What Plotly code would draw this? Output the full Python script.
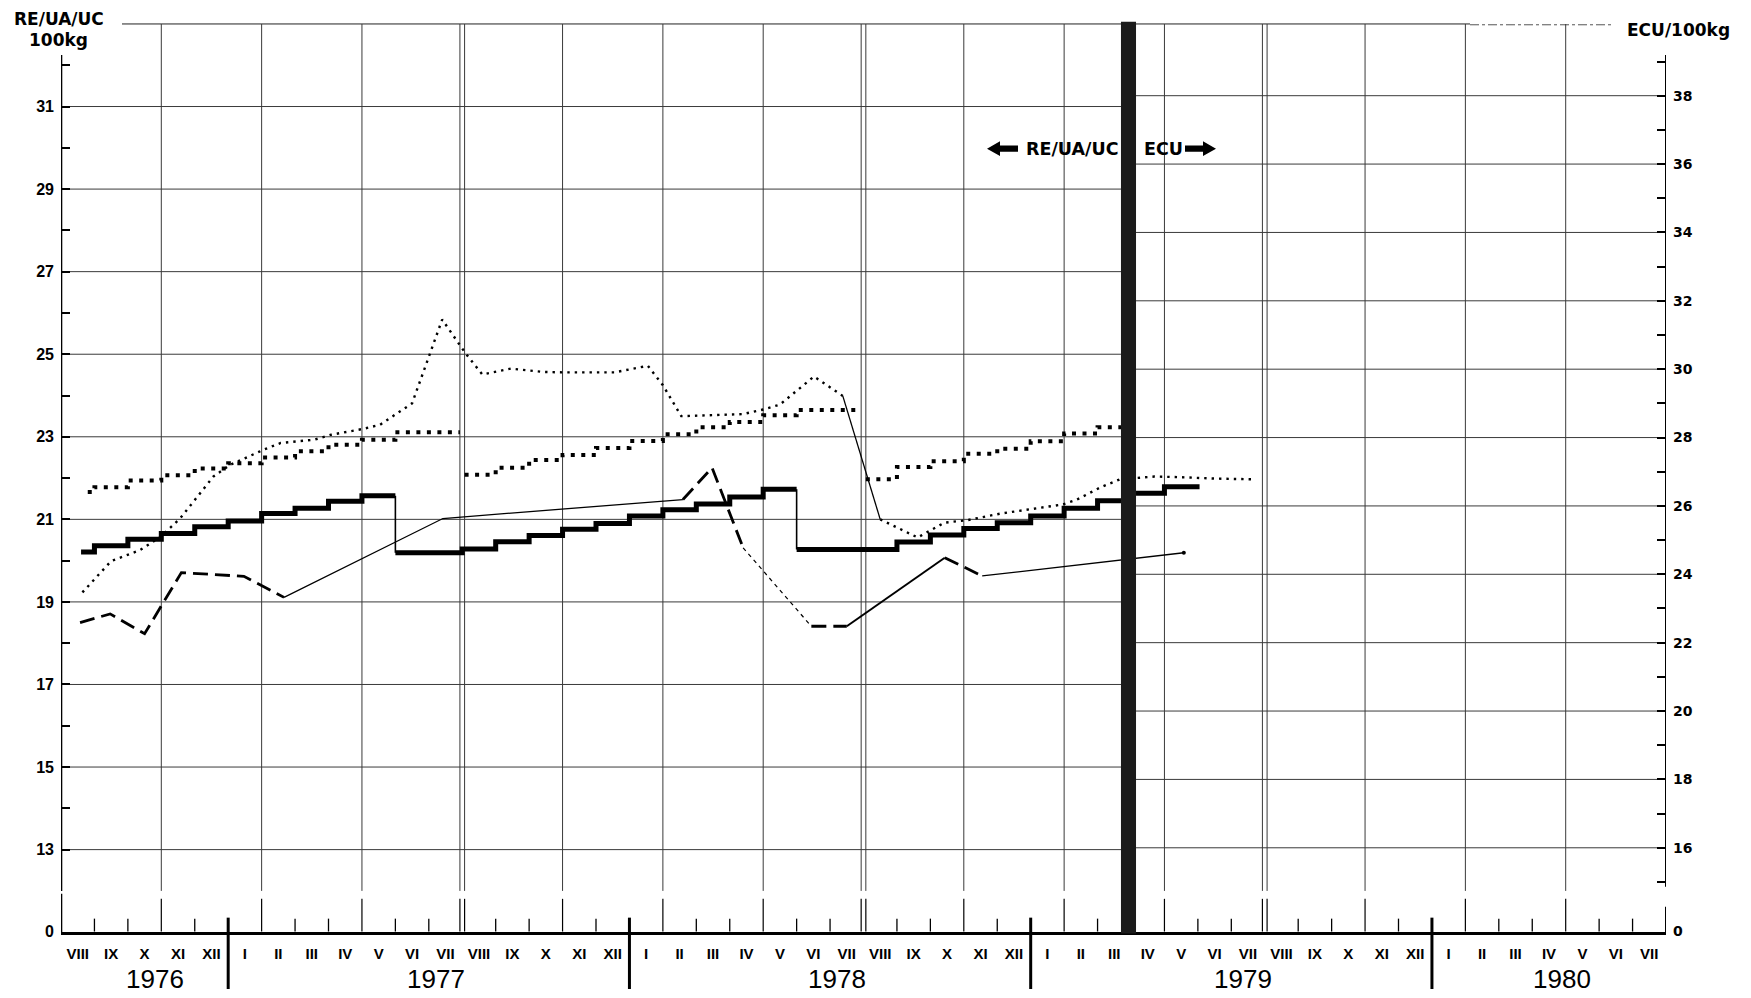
import plotly.graph_objects as go

W, H = 1751, 998

# ---------------- calendar / axis labels ----------------
ROMAN = ["I", "II", "III", "IV", "V", "VI", "VII", "VIII", "IX", "X", "XI", "XII"]
month_labels = ["VIII", "IX", "X", "XI", "XII"] + ROMAN * 3 + ROMAN[:7]   # VIII 1976 .. VII 1980
year_labels = ["1976", "1977", "1978", "1979", "1980"]
year_label_pos = [2.3, 10.7, 22.7, 34.85, 44.4]
year_breaks = [4.5, 16.5, 28.5, 40.5]
grid_months = [2.5, 5.5, 8.5, 11.5, 14.5, 17.5, 20.5, 23.5, 26.5, 29.5, 32.5, 35.5, 38.5, 41.5, 44.5]
double_grid = [11.5, 23.5, 35.5]
left_major = [13, 15, 17, 19, 21, 23, 25, 27, 29, 31]
left_minor = [14, 16, 18, 20, 22, 24, 26, 28, 30, 32]
right_major = [16, 18, 20, 22, 24, 26, 28, 30, 32, 34, 36, 38]
right_minor = [15, 17, 19, 21, 23, 25, 27, 29, 31, 33, 35, 37, 39]

# ---------------- series (month index 0 = VIII 1976) ----------------
# thick step line (RE/UA/UC per 100 kg)
A_months = list(range(0, 32))
A_ua = [20.21, 20.36, 20.52, 20.66, 20.82, 20.96, 21.14, 21.27, 21.44, 21.57,
        20.19, 20.19, 20.28, 20.46, 20.61, 20.76, 20.90, 21.08, 21.23, 21.37,
        21.54, 21.73, 20.27, 20.27, 20.27, 20.45, 20.62, 20.78, 20.92, 21.08,
        21.27, 21.45]
A_ecu_months = [32, 33]
A_ecu = [26.37, 26.56]

# bold dotted step line
B_months = list(range(0, 32))
B_ua = [21.66, 21.78, 21.94, 22.07, 22.23, 22.36, 22.50, 22.65, 22.81, 22.93,
        23.11, 23.11, 22.08, 22.25, 22.44, 22.56, 22.73, 22.90, 23.06, 23.23,
        23.36, 23.52, 23.65, 23.65, 21.97, 22.27, 22.41, 22.59, 22.71, 22.89,
        23.08, 23.23]

# fine dotted line (market price)
C1_x = [0.14, 1.0, 1.85, 2.47, 3.06, 4.06, 4.56, 5.57, 6.07, 7.08, 7.58, 8.53, 9.04,
        10.0, 10.9, 11.45, 11.6, 12.1, 12.95, 13.95, 14.55, 16.05, 17.05, 17.5, 18.05,
        19.9, 20.5, 21.0, 22.02, 22.88]
C1_ua = [19.23, 19.99, 20.25, 20.57, 21.02, 22.04, 22.32, 22.69, 22.85, 22.93, 23.05, 23.19, 23.29,
         23.81, 25.84, 25.20, 25.02, 24.51, 24.65, 24.57, 24.56, 24.56, 24.72, 24.25, 23.50,
         23.55, 23.66, 23.78, 24.46, 23.99]
C2_x = [24.0, 25.12, 25.92, 26.6, 27.6, 29.45, 29.86, 30.6, 31.2]
C2_ua = [21.00, 20.56, 20.92, 20.98, 21.14, 21.36, 21.47, 21.78, 21.98]
C_ecu_x = [31.7, 32.2, 33.0, 34.0, 35.1]
C_ecu = [26.82, 26.86, 26.84, 26.80, 26.78]

# dashed line (with thin links)
D_x = [0.07, 0.97, 2.0, 3.1, 4.97, 6.17, 10.92, 18.1, 18.97, 19.9, 21.94, 23.0, 25.93, 27.05]
D_ua = [18.50, 18.71, 18.23, 19.71, 19.62, 19.11, 21.02, 21.48, 22.25, 20.31, 18.41, 18.41, 20.07, 19.63]
D_segments = [(0, 5, "dash"), (5, 7, "thin"), (7, 9, "dash"), (9, 10, "fine"),
              (10, 11, "dash"), (11, 12, "mid"), (12, 13, "dash")]
D_ecu_x = [33.08]
D_ecu = [24.63]

# ---------------- scales ----------------
X_RANGE = [-0.5, 47.5]
Y_RANGE = [12.0, 33.0]
ECU_SCALE, ECU_SHIFT = 1.2076, 0.2476          # right axis calibration vs left axis
def to_ecu(v):
    return ECU_SCALE * v + ECU_SHIFT
Y2_RANGE = [to_ecu(Y_RANGE[0]), to_ecu(Y_RANGE[1])]
DIV_X = [31.2, 31.65]                            # ECU changeover bar

def px(x):
    return x / W
def py(y):
    return 1 - y / H

XDOM = [px(61), px(1666)]
YDOM = [py(899.0), py(24.18)]
Y3DOM = [py(940), py(903)]

SANS = "Liberation Sans, Arial, sans-serif"
BOLD = "DejaVu Sans, Liberation Sans, sans-serif"
GRID = "#3a3a3a"

fig = go.Figure()

def step_xy(months, vals, x_start, x_end):
    xs = [x_start] + [m - 0.5 for m in months[1:]] + [x_end]
    ys = list(vals) + [vals[-1]]
    return xs, ys

def add_line(x, y, width, dash="solid", axis="y", shape="linear"):
    fig.add_trace(go.Scatter(x=x, y=y, mode="lines", yaxis=axis,
                             line=dict(color="black", width=width, dash=dash, shape=shape),
                             hoverinfo="skip", showlegend=False))

# --- A: thick step line, split at the yearly drops
A_parts = [(0, 9, 0.1, 9.5), (10, 21, 9.5, 21.5), (22, 31, 21.5, DIV_X[0])]
for i0, i1, xs, xe in A_parts:
    xx, yy = step_xy(A_months[i0:i1 + 1], A_ua[i0:i1 + 1], xs, xe)
    add_line(xx, yy, 5, shape="hv")
for i in (9, 21):
    add_line([i + 0.5, i + 0.5], [A_ua[i], A_ua[i + 1]], 1.6)
xx, yy = step_xy(A_ecu_months, A_ecu, DIV_X[1], 33.55)
add_line(xx, yy, 5, axis="y2", shape="hv")

# --- B: bold dotted step line, gaps at the August changes
B_parts = [(0, 11, 0.3, 11.43), (12, 23, 11.57, 23.43), (24, 31, 23.57, DIV_X[0])]
for i0, i1, xs, xe in B_parts:
    xx, yy = step_xy(B_months[i0:i1 + 1], B_ua[i0:i1 + 1], xs, xe)
    add_line(xx, yy, 4, dash="4px,6.5px", shape="hv")

# --- C: fine dotted line
add_line(C1_x, C1_ua, 2.4, dash="2.4px,5px")
add_line([C1_x[-1], C2_x[0]], [C1_ua[-1], C2_ua[0]], 1.3)
add_line(C2_x, C2_ua, 2.4, dash="2.4px,5px")
add_line(C_ecu_x, C_ecu, 2.4, dash="2.4px,5px", axis="y2")

# --- D: dashed line with thin links
D_styles = {"dash": (2.8, "15px,7px"), "thin": (1.3, "solid"), "fine": (1.2, "4px,4px"),
            "mid": (2.0, "solid")}
for i0, i1, st in D_segments:
    w, d = D_styles[st]
    add_line(D_x[i0:i1 + 1], D_ua[i0:i1 + 1], w, dash=d)
add_line([D_x[-1], D_ecu_x[0]], [to_ecu(D_ua[-1]), D_ecu[0]], 1.3, axis="y2")
fig.add_trace(go.Scatter(x=D_ecu_x, y=D_ecu, mode="markers", yaxis="y2",
                         marker=dict(color="black", size=4), hoverinfo="skip", showlegend=False))

# bottom strip axis (carries the month tick labels)
fig.add_trace(go.Scatter(x=[X_RANGE[0]], y=[0], xaxis="x2", yaxis="y3", mode="markers",
                         marker=dict(opacity=0), hoverinfo="skip", showlegend=False))
fig.add_trace(go.Scatter(x=[X_RANGE[1]], y=[0], xaxis="x2", yaxis="y4", mode="markers",
                         marker=dict(opacity=0), hoverinfo="skip", showlegend=False))

# ---------------- shapes ----------------
shapes = []
def hline(x0, x1, y, yref="y", w=1, color=GRID, dash="solid", xref="x"):
    shapes.append(dict(type="line", xref=xref, yref=yref, x0=x0, x1=x1, y0=y, y1=y,
                       line=dict(color=color, width=w, dash=dash), layer="below"))
def vline(x, y0, y1, yref="y", w=1, color=GRID, xref="x", layer="below"):
    shapes.append(dict(type="line", xref=xref, yref=yref, x0=x, x1=x, y0=y0, y1=y1,
                       line=dict(color=color, width=w), layer=layer))

for v in left_major:
    hline(-0.3, DIV_X[0], v)
for r in right_major:
    hline(DIV_X[1], X_RANGE[1], r, yref="y2")
for g in grid_months:
    offs = [-0.07, 0.07] if g in double_grid else [0.0]
    for o in offs:
        vline(g + o, Y_RANGE[0], Y_RANGE[1])
        vline(g + o, py(907), py(940), yref="paper", w=1.2, color="black", xref="x2")
# top frame line
hline(px(122), px(1470), py(24.18), yref="paper", xref="paper", color="#222")
hline(px(1470), px(1612), py(25), yref="paper", xref="paper", color="#555", dash="dashdot")
# axis lines
vline(X_RANGE[0], 12.0, 32.25, w=2.6, color="black", layer="above")
vline(X_RANGE[1], 12.1, 32.25, w=2.0, color="black", layer="above")
vline(X_RANGE[0], py(902), py(941), yref="paper", w=2.6, color="black", xref="x2", layer="above")
vline(X_RANGE[1], py(915), py(941), yref="paper", w=2.0, color="black", xref="x2", layer="above")
# short month ticks on the bottom strip
long_set = set(grid_months) | set(year_breaks)
for k in range(47):
    b = k + 0.5
    if b not in long_set:
        vline(b, py(927), py(940), yref="paper", w=1.3, color="black", xref="x2")
for yb in year_breaks:
    vline(yb, py(926), py(998), yref="paper", w=3, color="black", xref="x2", layer="above")
# ECU changeover bar
shapes.append(dict(type="rect", xref="x", yref="paper", x0=DIV_X[0], x1=DIV_X[1],
                   y0=py(942), y1=py(22), fillcolor="#1b1b1b", line=dict(width=0), layer="above"))
# arrows beside the currency labels
def arrow_path(tip, tail, yc, left=True):
    s = 1 if left else -1
    hb = tip + s * 13
    return (f"M {px(tip)} {py(yc)} L {px(hb)} {py(yc - 7.5)} L {px(hb)} {py(yc - 3.2)} "
            f"L {px(tail)} {py(yc - 3.2)} L {px(tail)} {py(yc + 3.2)} L {px(hb)} {py(yc + 3.2)} "
            f"L {px(hb)} {py(yc + 7.5)} Z")
shapes.append(dict(type="path", xref="paper", yref="paper", path=arrow_path(987, 1018, 150, True),
                   fillcolor="black", line=dict(width=0)))
shapes.append(dict(type="path", xref="paper", yref="paper", path=arrow_path(1216, 1185, 150, False),
                   fillcolor="black", line=dict(width=0)))

# ---------------- annotations ----------------
ann = []
def text(x, y, s, size, family=BOLD, weight="bold", xanchor="center", xref="paper"):
    ann.append(dict(x=x, y=y, xref=xref, yref="paper", text=s, showarrow=False,
                    xanchor=xanchor, yanchor="middle",
                    font=dict(family=family, size=size, color="black", weight=weight)))
text(px(12), py(19), "RE/UA/UC", 17, xanchor="left")
text(px(58), py(40), "100kg", 17)
text(px(1625), py(30), "ECU/100kg", 17, xanchor="left")
text(px(1120), py(150), "RE/UA/UC", 17.5, xanchor="right")
text(px(1142), py(150), "ECU", 17.5, xanchor="left")
for lab, pos in zip(year_labels, year_label_pos):
    text(pos, py(988), lab, 26, family=SANS, weight="normal", xref="x2")

left_vals = sorted(left_major + left_minor)
right_vals = sorted(right_major + right_minor)

fig.update_layout(
    width=W, height=H, autosize=False,
    margin=dict(l=0, r=0, t=0, b=0, pad=0),
    paper_bgcolor="white", plot_bgcolor="rgba(0,0,0,0)",
    showlegend=False,
    xaxis=dict(domain=XDOM, range=X_RANGE, anchor="y", showgrid=False, zeroline=False,
               showline=False, showticklabels=False, ticks=""),
    yaxis=dict(domain=YDOM, range=Y_RANGE, anchor="x", showgrid=False, zeroline=False,
               showline=False, ticks="inside", ticklen=9, tickwidth=1.5, tickcolor="black",
               tickvals=left_vals, ticktext=[str(v) if v in left_major else "" for v in left_vals],
               ticklabelstandoff=6,
               tickfont=dict(family=SANS, size=16, color="black", weight="bold")),
    yaxis2=dict(overlaying="y", side="right", anchor="x", range=Y2_RANGE, showgrid=False,
                zeroline=False, showline=False, ticks="inside", ticklen=9, tickwidth=1.5,
                tickcolor="black", tickvals=right_vals,
                ticktext=[str(v) if v in right_major else "" for v in right_vals],
                ticklabelstandoff=6,
                tickfont=dict(family=BOLD, size=14, color="black", weight="bold")),
    xaxis2=dict(domain=XDOM, range=X_RANGE, anchor="y3", showgrid=False, zeroline=False,
                showline=True, linewidth=3, linecolor="black", ticks="",
                tickvals=list(range(len(month_labels))), ticktext=month_labels,
                ticklabelstandoff=6,
                tickfont=dict(family=SANS, size=15, color="black", weight="bold")),
    yaxis3=dict(domain=Y3DOM, range=[0, 1], anchor="x2", showgrid=False, zeroline=False,
                showline=False, ticks="", tickvals=[0], ticktext=["0"], ticklabelstandoff=6,
                tickfont=dict(family=SANS, size=16, color="black", weight="bold")),
    yaxis4=dict(overlaying="y3", side="right", anchor="x2", range=[0, 1], showgrid=False,
                zeroline=False, showline=False, ticks="", tickvals=[0], ticktext=["0"],
                ticklabelstandoff=6,
                tickfont=dict(family=BOLD, size=14, color="black", weight="bold")),
    shapes=shapes,
    annotations=ann,
)

fig.write_html("out.html", config={"displayModeBar": False},
               post_script="document.body.style.margin='0';document.body.style.overflow='hidden';")
